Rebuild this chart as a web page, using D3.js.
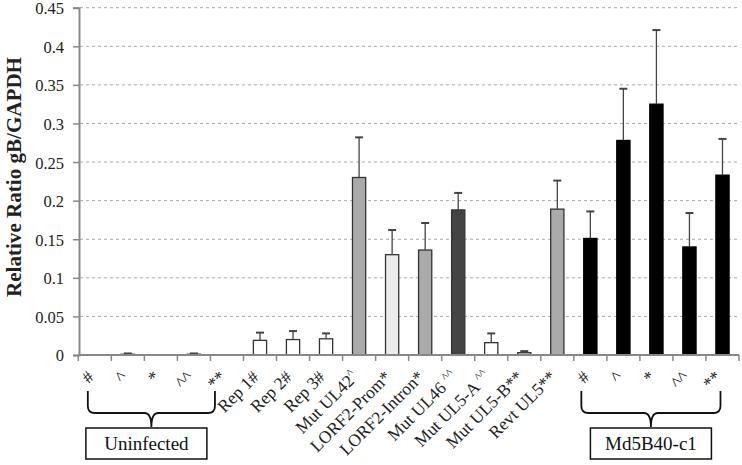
<!DOCTYPE html>
<html><head><meta charset="utf-8">
<script src="https://cdn.jsdelivr.net/npm/d3@7"></script>
<style>body{margin:0;background:#fff}svg{display:block}svg text{font-family:'Liberation Serif','Times New Roman',serif !important}</style>
</head><body><svg id="c" width="742" height="465"></svg>
<script>
const categories = ["#","^","*","^^","**","Rep 1#","Rep 2#","Rep 3#","Mut UL42^","LORF2-Prom*","LORF2-Intron*","Mut UL46 ^^","Mut UL5-A ^^","Mut UL5-B**","Revt UL5**","#","^","*","^^","**"];
const values = [0,0.001,0,0.001,0,0.019,0.020,0.021,0.230,0.130,0.136,0.188,0.016,0.003,0.189,0.151,0.278,0.325,0.140,0.233];
const errors = [0,0.001,0,0.001,0,0.010,0.011,0.007,0.052,0.032,0.035,0.022,0.012,0.002,0.037,0.035,0.067,0.096,0.044,0.047];
const fills = ["#aaa","#aaa","#aaa","#aaa","#aaa","#fff","#fff","#fff","#aaa","#ececec","#aaa","#444","#fff","#ddd","#aaa","#000","#000","#000","#000","#000"];
const yTicks = [0,0.05,0.1,0.15,0.2,0.25,0.3,0.35,0.4,0.45];
const groups = [{label:"Uninfected", from:0, to:4}, {label:"Md5B40-c1", from:15, to:19}];

const FONT = "Liberation Serif, Times New Roman, serif";
const svg = d3.select("#c").attr("font-family", FONT);
const x = d3.scaleBand().domain(d3.range(categories.length)).range([78.3, 739]).paddingInner(0.6).paddingOuter(0.3);
const y = d3.scaleLinear().domain([0,0.45]).range([355,7.7]);
const xb = d3.scaleBand().domain(d3.range(categories.length)).range([78.3, 739]);
const cx = i => xb(i)+xb.bandwidth()/2;

// gridlines
svg.append("g").selectAll("line").data(yTicks.slice(1)).join("line")
  .attr("x1",80).attr("x2",739).attr("y1",d=>y(d)).attr("y2",d=>y(d))
  .attr("stroke","#a8a8a8").attr("stroke-width",1).attr("stroke-dasharray","3,3");

// y axis
const ya = svg.append("g").attr("transform","translate(79,0)")
  .call(d3.axisLeft(y).tickValues(yTicks).tickSize(6).tickFormat(d=>d===0?"0":String(d)));
ya.attr("font-family", FONT);
ya.select(".domain").attr("stroke","#888").attr("stroke-width",2);
ya.selectAll(".tick line").attr("stroke","#888").attr("stroke-width",1.5);
ya.selectAll(".tick text").attr("font-size",16.5).attr("fill","#222").attr("x",-15).attr("dy","0.36em")
  .style("font-family", FONT);

svg.append("text").attr("transform","translate(21,177) rotate(-90)").attr("text-anchor","middle")
  .attr("font-size",22).attr("font-weight","bold").attr("fill","#222").style("font-family", FONT)
  .attr("textLength",240).attr("lengthAdjust","spacingAndGlyphs").text("Relative Ratio gB/GAPDH");

// bars
svg.append("g").selectAll("rect").data(values).join("rect")
  .attr("x",(d,i)=>x(i)).attr("width",x.bandwidth())
  .attr("y",d=>y(d)).attr("height",d=>y(0)-y(d))
  .attr("fill",(d,i)=>fills[i]).attr("stroke",(d,i)=>fills[i]==="#000"?"#000":"#333").attr("stroke-width",1.3)
  .attr("display",d=>d>0?null:"none");

// error bars
const eg = svg.append("g").attr("stroke","#444").attr("stroke-width",1.3);
values.forEach((v,i)=>{
  if(v<=0) return;
  const c = cx(i);
  eg.append("line").attr("x1",c).attr("x2",c).attr("y1",y(v)).attr("y2",y(v+errors[i]));
  eg.append("line").attr("x1",c-4).attr("x2",c+4).attr("y1",y(v+errors[i])).attr("y2",y(v+errors[i])).attr("stroke-width",2);
});

// x axis
svg.append("line").attr("x1",78).attr("x2",739).attr("y1",355).attr("y2",355).attr("stroke","#888").attr("stroke-width",2);
svg.append("g").selectAll("line").data(d3.range(categories.length+1)).join("line")
  .attr("x1",d=>78.3+d*xb.step()).attr("x2",d=>78.3+d*xb.step()).attr("y1",355).attr("y2",361)
  .attr("stroke","#888").attr("stroke-width",1.5);

// x labels
svg.append("g").selectAll("text").data(categories).join("text")
  .attr("transform",(d,i)=>`translate(${cx(i)},${378}) rotate(-45)`)
  .attr("text-anchor","end").attr("font-size",17.5).attr("fill","#222").style("font-family", FONT)
  .each(function(d){
    const m = d.match(/^(.*?)(\s?)(\^+)$/);
    const t = d3.select(this);
    if(m && m[1].length>0){
      t.append("tspan").text(m[1]+m[2]);
      t.append("tspan").attr("font-size",12).attr("dy",-6).text(m[3]);
    } else t.text(d);
  });

// braces and boxes
const braceOff = [[-7,-12,-5],[-9,-2,0]];
groups.forEach((g,gi)=>{
  const x0 = cx(g.from)+braceOff[gi][0], x1 = cx(g.to)+braceOff[gi][1], xm=(x0+x1)/2;
  const top=391, mid=413, bot=427;
  const p = `M${x0},${top} L${x0},${mid-7} Q${x0},${mid} ${x0+7},${mid} L${xm-7},${mid} Q${xm},${mid} ${xm},${bot} Q${xm},${mid} ${xm+7},${mid} L${x1-7},${mid} Q${x1},${mid} ${x1},${mid-7} L${x1},${top}`;
  svg.append("path").attr("d",p).attr("fill","none").attr("stroke","#111").attr("stroke-width",1.8);
  const bw = 121, bc = xm+braceOff[gi][2];
  svg.append("rect").attr("x",bc-bw/2).attr("y",428).attr("width",bw).attr("height",31)
    .attr("fill","#fff").attr("stroke","#111").attr("stroke-width",1.5);
  svg.append("text").attr("x",bc).attr("y",450).attr("text-anchor","middle").attr("font-size",19).attr("fill","#111").style("font-family", FONT).text(g.label);
});
</script></body></html>
